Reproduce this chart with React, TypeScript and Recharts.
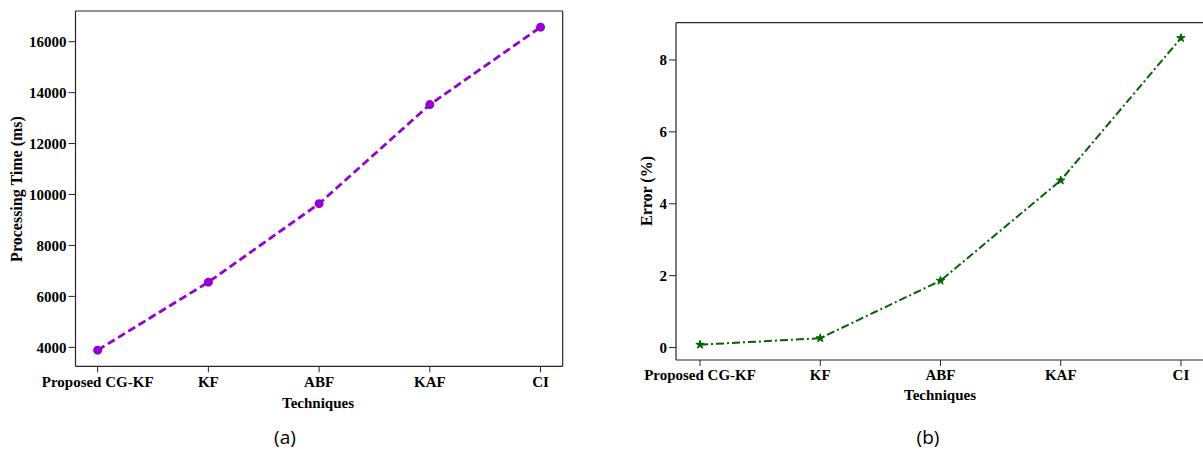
import React from 'react';
import {
  LineChart,
  Line,
  XAxis,
  YAxis,
  ReferenceLine,
  Symbols,
} from 'recharts';

const categories = ['Proposed CG-KF', 'KF', 'ABF', 'KAF', 'CI'];
const processingTime = [3890, 6560, 9640, 13530, 16570];
const errorPct = [0.08, 0.26, 1.86, 4.65, 8.61];
const timeTicks = [4000, 6000, 8000, 10000, 12000, 14000, 16000];
const errorTicks = [0, 2, 4, 6, 8];
const xTicks = [0, 1, 2, 3, 4];

const SERIF = 'Liberation Serif, Tinos, DejaVu Serif, serif';
const SPINE = '#262626';

// matplotlib-like 5% padding around the data
const padded = (vals: number[]): [number, number] => {
  const lo = Math.min(...vals);
  const hi = Math.max(...vals);
  const m = (hi - lo) * 0.05;
  return [lo - m, hi + m];
};

const timeData = categories.map((name, i) => ({ idx: i, name, value: processingTime[i] }));
const errorData = categories.map((name, i) => ({ idx: i, name, value: errorPct[i] }));

const tickStyle = { fontFamily: SERIF, fontWeight: 700, fontSize: 15, fill: '#000' };

const StarDot = (props: any) => {
  const { cx, cy, index } = props;
  return <Symbols key={`s-${index}`} cx={cx} cy={cy} type="star" size={22} fill="#006400" stroke="#006400" />;
};

const textBase: React.CSSProperties = {
  position: 'absolute',
  fontFamily: SERIF,
  fontWeight: 700,
  color: '#000',
  whiteSpace: 'nowrap',
  lineHeight: 1,
};

export default function App() {
  const timeDomain = padded(processingTime);
  const errorDomain = padded(errorPct);

  return (
    <div
      style={{
        position: 'absolute',
        left: 0,
        top: 0,
        width: 1203,
        height: 450,
        overflow: 'hidden',
        background: '#fff',
      }}
    >
      {/* (a) processing time */}
      <div style={{ position: 'absolute', left: 0, top: 0, fontFamily: SERIF }}>
        <LineChart
          width={600}
          height={450}
          data={timeData}
          margin={{ top: 11, right: 37.3, left: 0, bottom: 53.7 }}
          style={{ fontFamily: SERIF }}
        >
          <XAxis
            dataKey="idx"
            type="number"
            domain={[-0.2, 4.2]}
            ticks={xTicks}
            height={30}
            tickFormatter={(v: number) => categories[v]}
            interval={0}
            tick={tickStyle}
            tickSize={6}
            tickMargin={4}
            axisLine={{ stroke: SPINE, strokeWidth: 1.2 }}
            tickLine={{ stroke: SPINE }}
          />
          <YAxis
            type="number"
            domain={timeDomain}
            ticks={timeTicks}
            width={75.5}
            tick={tickStyle}
            tickSize={7}
            tickMargin={2}
            axisLine={{ stroke: SPINE, strokeWidth: 1.2 }}
            tickLine={{ stroke: SPINE }}
          />
          <ReferenceLine y={timeDomain[1]} stroke={SPINE} strokeWidth={1.2} />
          <ReferenceLine x={4.2} stroke={SPINE} strokeWidth={1.2} />
          <Line
            type="linear"
            dataKey="value"
            stroke="#9400D3"
            strokeWidth={2.8}
            strokeDasharray="8 4"
            dot={{ r: 4.5, fill: '#9400D3', stroke: '#9400D3', strokeWidth: 0 }}
            isAnimationActive={false}
          />
        </LineChart>
      </div>

      {/* (b) error */}
      <div style={{ position: 'absolute', left: 600, top: 0, fontFamily: SERIF }}>
        <LineChart
          width={610}
          height={450}
          data={errorData}
          margin={{ top: 22.7, right: 5, left: 0, bottom: 60 }}
          style={{ fontFamily: SERIF }}
        >
          <XAxis
            dataKey="idx"
            type="number"
            domain={[-0.2, 4.2]}
            ticks={xTicks}
            height={30}
            tickFormatter={(v: number) => categories[v]}
            interval={0}
            tick={tickStyle}
            tickSize={6}
            tickMargin={3}
            axisLine={{ stroke: SPINE, strokeWidth: 1.2 }}
            tickLine={{ stroke: SPINE }}
          />
          <YAxis
            type="number"
            domain={errorDomain}
            ticks={errorTicks}
            width={76}
            tick={tickStyle}
            tickSize={7}
            tickMargin={2}
            axisLine={{ stroke: SPINE, strokeWidth: 1.2 }}
            tickLine={{ stroke: SPINE }}
          />
          <ReferenceLine y={errorDomain[1]} stroke={SPINE} strokeWidth={1.2} />
          <Line
            type="linear"
            dataKey="value"
            stroke="#006400"
            strokeWidth={2}
            strokeDasharray="8 3 2 3"
            dot={StarDot}
            isAnimationActive={false}
          />
        </LineChart>
      </div>

      {/* axis titles */}
      <div style={{ ...textBase, fontSize: 16, left: 17, top: 189, transform: 'translate(-50%, -50%) rotate(-90deg)' }}>
        Processing Time (ms)
      </div>
      <div style={{ ...textBase, fontSize: 15, left: 318, top: 403, transform: 'translate(-50%, -50%)' }}>
        Techniques
      </div>
      <div style={{ ...textBase, fontSize: 16, left: 647, top: 191, transform: 'translate(-50%, -50%) rotate(-90deg)' }}>
        Error (%)
      </div>
      <div style={{ ...textBase, fontSize: 15, left: 940, top: 395, transform: 'translate(-50%, -50%)' }}>
        Techniques
      </div>

      {/* panel captions */}
      <div style={{ ...textBase, fontFamily: 'Open Sans, sans-serif', fontWeight: 400, fontSize: 19, left: 285, top: 437, transform: 'translate(-50%, -50%)' }}>
        (a)
      </div>
      <div style={{ ...textBase, fontFamily: 'Open Sans, sans-serif', fontWeight: 400, fontSize: 19, left: 928, top: 437, transform: 'translate(-50%, -50%)' }}>
        (b)
      </div>
    </div>
  );
}
